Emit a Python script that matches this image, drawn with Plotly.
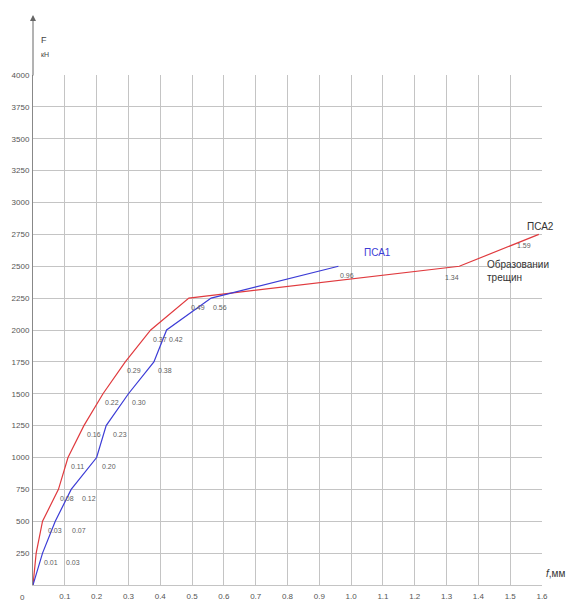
import plotly.graph_objects as go

# ---- data ----
psa1_load = [0, 250, 500, 750, 1000, 1250, 1500, 1750, 2000, 2250, 2500]
psa1_defl = [0, 0.03, 0.07, 0.12, 0.20, 0.23, 0.30, 0.38, 0.42, 0.56, 0.96]
psa2_load = [0, 250, 500, 750, 1000, 1250, 1500, 1750, 2000, 2250, 2500, 2750]
psa2_defl = [0, 0.01, 0.03, 0.08, 0.11, 0.16, 0.22, 0.29, 0.37, 0.49, 1.34, 1.59]
x_ticks = [0.1, 0.2, 0.3, 0.4, 0.5, 0.6, 0.7, 0.8, 0.9, 1.0, 1.1, 1.2, 1.3, 1.4, 1.5, 1.6]
x_tick_labels = ["0.1", "0.2", "0.3", "0.4", "0.5", "0.6", "0.7", "0.8", "0.9",
                 "1.0", "1.1", "1.2", "1.3", "1.4", "1.5", "1.6"]
y_ticks = [250, 500, 750, 1000, 1250, 1500, 1750, 2000, 2250, 2500, 2750,
           3000, 3250, 3500, 3750, 4000]
y_tick_labels = [str(v) for v in y_ticks]

# label placement (style only): horizontal pixel offsets of value labels
psa1_label_dx = [0, 21, 15, 9, 3, 5, 2, 2, 0, 0, 0]
psa2_label_dx = [0, 6, 3, 0, 1, 1, 0, 0, 0, 0, 2, -6]

RED = "#e03a3e"
BLUE = "#3c3cd6"
FONT = "Liberation Sans, Arial, sans-serif"

fig = go.Figure()
fig.add_trace(go.Scatter(x=psa2_defl, y=psa2_load, mode="lines",
                         line=dict(color=RED, width=1.2), name="ПСА2",
                         hoverinfo="x+y"))
fig.add_trace(go.Scatter(x=psa1_defl, y=psa1_load, mode="lines",
                         line=dict(color=BLUE, width=1.2), name="ПСА1",
                         hoverinfo="x+y"))

annotations = []
for xs, ys, dxs in ((psa2_defl, psa2_load, psa2_label_dx),
                    (psa1_defl, psa1_load, psa1_label_dx)):
    for xv, yv, dx in zip(xs, ys, dxs):
        if yv == 0:
            continue
        big = xv > 1.0
        annotations.append(dict(
            x=xv, y=yv, xref="x", yref="y", text=f"{xv:.2f}", showarrow=False,
            xanchor="right" if big else "left", yanchor="middle",
            xshift=dx, yshift=-11 if big else -9,
            font=dict(family=FONT, size=7, color="#606060")))

# series names and notes
annotations += [
    dict(x=0.96, y=2500, xref="x", yref="y", text="ПСА1", showarrow=False,
         xanchor="left", yanchor="middle", xshift=24, yshift=14,
         font=dict(family=FONT, size=10, color=BLUE)),
    dict(x=1.59, y=2750, xref="x", yref="y", text="ПСА2", showarrow=False,
         xanchor="center", yanchor="middle", xshift=2, yshift=8,
         font=dict(family=FONT, size=10, color="#333333")),
    dict(x=1.34, y=2500, xref="x", yref="y",
         text="Образовании<br>трещин", showarrow=False, align="left",
         xanchor="left", yanchor="top", xshift=26, yshift=9,
         font=dict(family=FONT, size=10, color="#333333")),
    # axis titles
    dict(x=0, y=1, xref="paper", yref="paper", text="F", showarrow=False,
         xanchor="left", yanchor="middle", xshift=6, yshift=35,
         font=dict(family=FONT, size=9, color="#444444")),
    dict(x=0, y=1, xref="paper", yref="paper", text="кН", showarrow=False,
         xanchor="left", yanchor="middle", xshift=6, yshift=21,
         font=dict(family=FONT, size=7, color="#444444")),
    dict(x=1, y=0, xref="paper", yref="paper", text="<i>f</i>,мм", showarrow=False,
         xanchor="left", yanchor="middle", xshift=2, yshift=12,
         font=dict(family=FONT, size=10, color="#333333")),
    dict(x=0, y=0, xref="paper", yref="paper", text="0", showarrow=False,
         xanchor="center", yanchor="top", xshift=-11, yshift=-6,
         font=dict(family=FONT, size=8, color="#555555")),
    # y axis arrow
    dict(x=0, y=1, xref="paper", yref="paper", text="", showarrow=True,
         ax=0, ay=62, yshift=60,
         arrowhead=2, arrowsize=1.2, arrowwidth=1, arrowcolor="#666666"),
]

# the page body adds an 8 px offset, so the figure is sized to fit the window
fig.update_layout(
    width=571, height=596,
    margin=dict(l=25, r=37, t=67, b=19, autoexpand=False),
    paper_bgcolor="white", plot_bgcolor="white",
    showlegend=False,
    font=dict(family=FONT, size=8, color="#555555"),
    annotations=annotations,
)
fig.update_xaxes(range=[0, 1.6], tickvals=x_ticks, ticktext=x_tick_labels,
                 showgrid=True, gridcolor="#c4c4c4", gridwidth=1,
                 zeroline=False, showline=True, linecolor="#c4c4c4",
                 ticks="", ticklabelstandoff=3, automargin=False,
                 tickfont=dict(family=FONT, size=8, color="#555555"))
fig.update_yaxes(range=[0, 4000], tickvals=y_ticks, ticktext=y_tick_labels,
                 showgrid=True, gridcolor="#c4c4c4", gridwidth=1,
                 zeroline=False, showline=True, linecolor="#888888",
                 ticks="", ticklabelstandoff=1, automargin=False,
                 tickfont=dict(family=FONT, size=8, color="#555555"))

fig.write_html("out.html")
